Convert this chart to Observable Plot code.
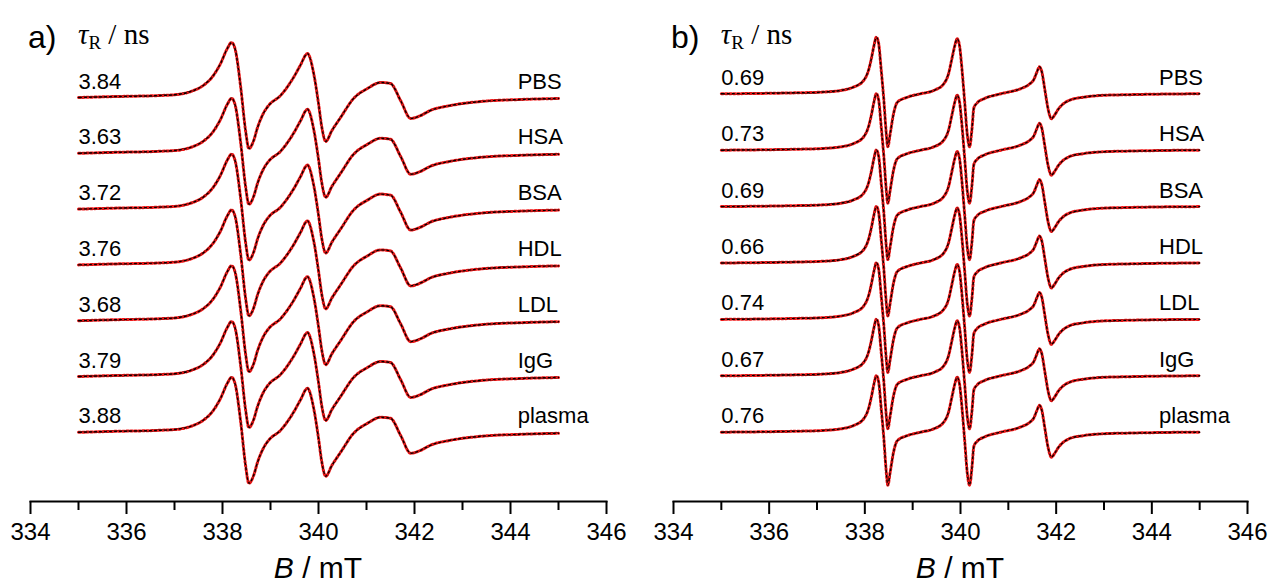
<!DOCTYPE html>
<html><head><meta charset="utf-8">
<script src="https://cdn.jsdelivr.net/npm/d3@7"></script>
<script src="https://cdn.jsdelivr.net/npm/@observablehq/plot@0.6"></script>
<style>
body{margin:0;background:#fff}
#wrap{display:flex;width:1268px;height:583px;overflow:hidden}
svg{display:block}
</style>
</head><body><div id="wrap"></div>
<script>
// ---- data ----
const samples = ["PBS", "HSA", "BSA", "HDL", "LDL", "IgG", "plasma"];
const tauA = ["3.84", "3.63", "3.72", "3.76", "3.68", "3.79", "3.88"];
const tauB = ["0.69", "0.73", "0.69", "0.66", "0.74", "0.67", "0.76"];
const majorTicks = [334, 336, 338, 340, 342, 344, 346];
const minorTicks = [335, 337, 339, 341, 343, 345];

// panel a: magnetic field (mT) and signal (a.u.)
const fieldA = [335.0, 335.8, 336.7, 337.06, 337.4, 337.6, 337.81, 337.96, 338.1, 338.19, 338.27, 338.38, 338.48, 338.55, 338.65, 338.73, 338.85, 338.96, 339.21, 339.48, 339.62, 339.77, 339.9, 340.0, 340.07, 340.15, 340.28, 340.46, 340.73, 341.02, 341.29, 341.5, 341.71, 341.92, 342.13, 342.33, 342.75, 343.38, 344.21, 345.0];
const signalA = [0, 1, 2, 3, 7, 12, 22, 34, 49, 55, 47, 10, -33, -51, -43, -30, -16, -8, 2, 20, 32, 44, 24, -6, -30, -44, -33, -20, -1, 9, 15, 14, -3, -21, -18, -13, -8, -4, -2, -1];

// panel b
const fieldB = [335.0, 336.0, 336.6, 337.07, 337.49, 337.76, 337.97, 338.08, 338.14, 338.19, 338.24, 338.29, 338.34, 338.4, 338.44, 338.48, 338.53, 338.6, 338.68, 338.89, 339.16, 339.44, 339.65, 339.75, 339.82, 339.88, 339.93, 339.98, 340.03, 340.09, 340.14, 340.19, 340.24, 340.28, 340.35, 340.49, 340.84, 341.25, 341.45, 341.53, 341.6, 341.65, 341.7, 341.76, 341.83, 341.9, 341.97, 342.05, 342.15, 342.3, 342.57, 343.0, 343.41, 344.2, 345.0];
const signalB = [0, 0.5, 1, 1.6, 3.3, 6.6, 13, 24, 36, 48, 56.6, 50, 25, -8, -35, -53, -40, -20, -8.4, -3.4, 0, 3.3, 10, 20, 35, 48, 55, 48, 25, -10, -40, -53, -35, -14, -9, -5, 0, 5, 10, 14, 22, 27, 22, 5, -15, -25, -21, -15, -10, -6, -3.4, -1.5, -1, -0.3, 0];

const RED = "#f01818";
const SANS = "'Liberation Sans', Arial, Helvetica, sans-serif";
const SERIF = "'Liberation Serif', 'Times New Roman', serif";

function panel({letter, field, signal, taus, step, top, marginLeft, marginRight}) {
  const rows = [];
  samples.forEach((s, i) => field.forEach((b, j) => rows.push({sample: s, B: b, y: signal[j] - i * step})));
  const labels = samples.map((s, i) => ({sample: s, tau: taus[i], y: -i * step}));
  const axisPx = 501;
  const plot = Plot.plot({
    width: 634, height: 583,
    marginTop: 0, marginBottom: 583 - axisPx, marginLeft, marginRight,
    style: {fontFamily: SANS, background: "white", overflow: "visible"},
    x: {domain: [334, 346]},
    y: {domain: [top - axisPx, top], axis: null},
    marks: [
      Plot.frame({anchor: "bottom", strokeWidth: 2}),
      Plot.axisX({ticks: majorTicks, tickSize: 13, tickPadding: 8, fontSize: 24, tickFormat: d => String(d), strokeWidth: 2, label: null}),
      Plot.axisX({ticks: minorTicks, tickSize: 9, tickFormat: () => "", strokeWidth: 2, label: null}),
      Plot.line(rows, {x: "B", y: "y", z: "sample", stroke: RED, strokeWidth: 3, strokeDasharray: "2,2", curve: "monotone-x"}),
      Plot.line(rows, {x: "B", y: "y", z: "sample", stroke: "black", strokeWidth: 1.4, curve: "monotone-x"}),
      Plot.line(rows, {x: "B", y: "y", z: "sample", stroke: RED, strokeWidth: 1.4, strokeDasharray: "1,4", strokeDashoffset: 1, curve: "monotone-x"}),
      Plot.text(labels, {x: field[0], y: "y", text: "tau", textAnchor: "start", lineAnchor: "bottom", dy: -9, fontSize: 22, fill: "black"}),
      Plot.text(labels, {x: 344.15, y: "y", text: "sample", textAnchor: "start", lineAnchor: "bottom", dy: -9, fontSize: 22, fill: "black"})
    ]
  });
  const x = plot.scale("x");
  const svg = d3.select(plot);
  // panel letter
  svg.append("text").attr("x", x.apply(334) - 2).attr("y", 48).attr("text-anchor", "start")
    .attr("font-family", SANS).attr("font-size", 32).text(letter);
  // header tau_R / ns
  const h = svg.append("text").attr("x", x.apply(335)).attr("y", 44).attr("text-anchor", "start")
    .attr("font-family", SERIF).attr("font-size", 29);
  h.append("tspan").attr("font-style", "italic").text("τ");
  h.append("tspan").attr("font-size", 19).attr("dy", 5).text("R");
  h.append("tspan").attr("dy", -5).text(" / ns");
  // x-axis title
  const t = svg.append("text").attr("x", x.apply(340)).attr("y", 578)
    .attr("text-anchor", "middle").attr("font-family", SANS).attr("font-size", 30);
  t.append("tspan").attr("font-style", "italic").text("B");
  t.append("tspan").text(" / mT");
  return plot;
}

const wrap = document.getElementById("wrap");
wrap.appendChild(panel({letter: "a)", field: fieldA, signal: signalA, taus: tauA, step: 55.8, top: 97, marginLeft: 30, marginRight: 28}));
wrap.appendChild(panel({letter: "b)", field: fieldB, signal: signalB, taus: tauB, step: 56.4, top: 93.3, marginLeft: 39, marginRight: 21}));
</script>
</body></html>
